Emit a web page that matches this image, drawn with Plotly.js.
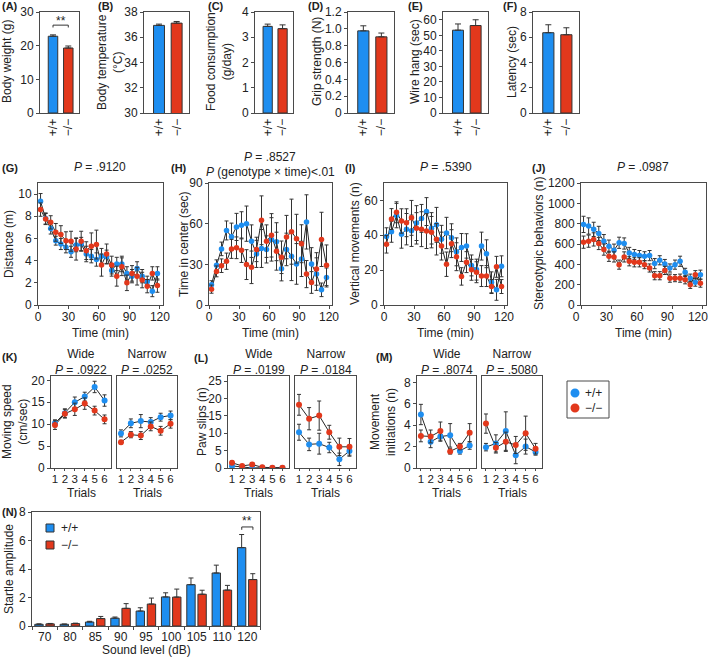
<!DOCTYPE html>
<html><head><meta charset="utf-8">
<script src="https://cdn.plot.ly/plotly-3.0.1.min.js"></script>
<style>html,body{margin:0;padding:0;background:#fff}#chart{width:709px;height:657px}</style>
</head><body><div id="chart"></div>
<script>
// ---------------- DATA ----------------
const genotypes = ['+/+', '\u2212/\u2212'];
const bodyWeight = [22.8, 19.3], bodyWeightErr = [0.4, 0.6];
const bodyTemp = [36.94, 37.12], bodyTempErr = [0.1, 0.13];
const foodCons = [3.43, 3.34], foodConsErr = [0.09, 0.15];
const grip = [0.976, 0.905], gripErr = [0.06, 0.045];
const wireHang = [53.3, 56.3], wireHangErr = [4.0, 3.7];
const latency = [6.36, 6.2], latencyErr = [0.63, 0.55];

const timeMin = [2.5, 7.5, 12.5, 17.5, 22.5, 27.5, 32.5, 37.5, 42.5, 47.5, 52.5, 57.5,
                 62.5, 67.5, 72.5, 77.5, 82.5, 87.5, 92.5, 97.5, 102.5, 107.5, 112.5, 117.5];
const distWT  = [9.35, 7.8, 6.9, 5.8, 5.5, 5.2, 4.8, 5.4, 5.5, 4.6, 4.4, 4.1, 4.4, 4.35, 3.1, 3.7, 3.7, 2.85, 2.6, 3.3, 2.6, 2.1, 1.25, 2.85];
const distWTe = [0.7, 0.5, 0.5, 0.4, 0.5, 0.5, 0.5, 0.6, 0.6, 0.7, 0.6, 0.6, 0.7, 0.6, 0.5, 0.6, 0.7, 0.6, 0.6, 0.6, 0.6, 0.5, 0.5, 0.6];
const distKO  = [8.6, 7.75, 7.45, 6.55, 6.35, 5.8, 5.75, 5.05, 5.75, 4.9, 5.3, 5.45, 3.6, 4.6, 3.6, 2.6, 3.45, 2.0, 2.85, 2.6, 2.25, 1.7, 2.85, 1.75];
const distKOe = [0.6, 0.5, 0.6, 0.8, 0.8, 0.8, 0.9, 1.0, 0.9, 0.8, 1.2, 1.3, 1.0, 0.9, 0.8, 0.9, 0.8, 0.7, 0.7, 0.8, 0.7, 0.6, 0.6, 0.6];
const centWT  = [14.9, 29.3, 41.4, 55, 50.4, 57.6, 58.8, 60, 47.1, 37.7, 41.7, 41, 48.4, 46.7, 26.8, 41, 36, 30.3, 34, 61.3, 30.3, 22.8, 11.2, 20.3];
const centWTe = [3, 4, 5, 7, 10, 10, 10, 13, 12, 10, 14, 10, 16, 14, 9, 12, 18, 15, 13, 20, 12, 12, 5, 7];
const centKO  = [11.7, 24.8, 29, 32.3, 41.4, 42.2, 40.4, 29.8, 27.8, 41, 62.5, 47.1, 51.4, 39.7, 35.2, 50.1, 54.1, 48.9, 45.2, 22.8, 16.6, 26.6, 48.4, 29.3];
const centKOe = [3, 4, 5, 6, 7, 8, 9, 11, 12, 9, 18, 12, 16, 14, 12, 16, 24, 18, 14, 10, 8, 12, 20, 15];
const vertWT  = [39.3, 42, 51.3, 40.6, 43.5, 42.6, 47, 49.7, 53.6, 44, 46, 37.7, 41.3, 38.6, 30.5, 33, 33.9, 22.7, 20.3, 33.8, 29.4, 13, 8.7, 22.2];
const vertWTe = [5, 6, 7, 8, 9, 9, 10, 8, 8, 9, 10, 8, 9, 8, 8, 8, 7, 6, 6, 8, 8, 6, 6, 6];
const vertKO  = [34.8, 49.3, 53.2, 48.2, 47.2, 50, 44, 43.5, 42.4, 41.8, 37.7, 33.8, 23.4, 35.2, 27.7, 16.4, 24.6, 20.2, 18.8, 16.6, 16.6, 10.6, 21.9, 10.6];
const vertKOe = [5, 6, 6, 7, 8, 10, 9, 10, 10, 9, 9, 8, 7, 8, 8, 5, 6, 6, 6, 6, 6, 4, 6, 4];
const stereoWT  = [793, 777, 744, 704, 628, 579, 539, 612, 605, 512, 496, 486, 479, 486, 407, 440, 403, 364, 397, 430, 321, 264, 225, 298];
const stereoWTe = [80, 80, 70, 70, 65, 60, 60, 55, 55, 55, 50, 50, 45, 50, 50, 45, 45, 40, 45, 50, 40, 40, 40, 45];
const stereoKO  = [618, 628, 645, 605, 545, 479, 473, 397, 473, 430, 420, 420, 397, 364, 288, 288, 340, 264, 264, 264, 248, 198, 298, 215];
const stereoKOe = [60, 60, 65, 60, 55, 50, 50, 45, 50, 45, 45, 45, 40, 40, 40, 40, 40, 40, 35, 40, 40, 35, 40, 40];

const trials = [1, 2, 3, 4, 5, 6];
const speedWideWT = [10.2, 12.5, 15.0, 16.3, 18.5, 15.4], speedWideWTe = [0.8, 1.0, 1.2, 1.0, 1.3, 1.3];
const speedWideKO = [9.8, 12.4, 13.4, 14.7, 13.1, 11.1], speedWideKOe = [1.0, 1.0, 1.4, 1.3, 1.0, 1.0];
const speedNarWT = [7.9, 10.2, 10.7, 10.5, 11.6, 12.0], speedNarWTe = [0.8, 1.0, 1.5, 1.0, 0.9, 1.0];
const speedNarKO = [5.9, 7.6, 7.4, 9.5, 8.5, 10.1], speedNarKOe = [0.4, 0.7, 0.9, 1.0, 1.0, 1.0];
const slipWideWT = [0.6, 0.3, 0.0, 0.1, 0.0, 0.0], slipWideWTe = [0.4, 0.2, 0.1, 0.1, 0.1, 0.1];
const slipWideKO = [1.5, 0.6, 1.0, 0.2, 0.1, 0.1], slipWideKOe = [0.5, 0.3, 0.5, 0.2, 0.1, 0.1];
const slipNarWT = [10.3, 6.8, 7.0, 5.9, 2.5, 4.9], slipNarWTe = [2.3, 1.8, 3.0, 1.5, 1.8, 1.5];
const slipNarKO = [18.2, 14.2, 15.1, 10.3, 6.1, 6.1], slipNarKOe = [3.0, 3.2, 4.2, 2.0, 2.5, 2.4];
const initWideWT = [5.0, 2.45, 2.95, 3.05, 1.6, 2.1], initWideWTe = [0.95, 0.55, 0.45, 1.1, 0.3, 0.35];
const initWideKO = [3.0, 2.95, 3.45, 1.55, 2.0, 3.3], initWideKOe = [0.55, 0.6, 0.85, 0.25, 0.3, 0.85];
const initNarWT = [1.95, 2.3, 3.45, 1.2, 2.0, 1.5], initNarWTe = [0.35, 0.8, 1.8, 0.8, 0.7, 0.3];
const initNarKO = [4.15, 1.9, 2.45, 2.15, 3.25, 1.8], initNarKOe = [0.9, 0.5, 0.9, 0.8, 1.6, 0.5];

const soundLevels = ['70', '80', '85', '90', '95', '100', '105', '110', '120'];
const startleWT  = [0.12, 0.12, 0.28, 0.55, 1.05, 2.04, 2.9, 3.72, 5.5];
const startleWTe = [0.03, 0.02, 0.05, 0.08, 0.23, 0.29, 0.47, 0.55, 0.92];
const startleKO  = [0.15, 0.17, 0.52, 1.24, 1.54, 2.03, 2.23, 2.52, 3.26];
const startleKOe = [0.03, 0.03, 0.15, 0.33, 0.42, 0.56, 0.28, 0.33, 0.41];

// ---------------- LAYOUT HELPERS ----------------
const W = 709, H = 657;
const FONT = '"Liberation Sans", Arial, Helvetica, sans-serif';
const BLUE = '#1e8ef0', RED = '#e2381c', INK = '#222', AXC = '#4a4a4a';
const AX = {showgrid:false, zeroline:false, showline:true, linecolor:AXC, linewidth:1, mirror:true,
            ticks:'outside', ticklen:3, tickcolor:AXC, tickfont:{size:12, color:INK}, fixedrange:true,
            ticklabeloverflow:'allow', tickangle:0};
const layout = {width:W, height:H, margin:{l:0, r:0, t:0, b:0}, showlegend:false,
  paper_bgcolor:'#fff', plot_bgcolor:'#fff', font:{family:FONT, size:12, color:INK},
  annotations:[], shapes:[]};
const data = [];
let axCount = 0;
function addAxes(x0, x1, y0, y1, xo, yo) {
  axCount++;
  const s = axCount === 1 ? '' : String(axCount);
  layout['xaxis' + s] = Object.assign({}, AX, {domain:[x0 / W, x1 / W], anchor:'y' + s}, xo);
  layout['yaxis' + s] = Object.assign({}, AX, {domain:[1 - y1 / H, 1 - y0 / H], anchor:'x' + s}, yo);
  return {xaxis:'x' + s, yaxis:'y' + s};
}
function ann(text, x, y, o) {
  layout.annotations.push(Object.assign({text:text, x:x / W, y:1 - y / H, xref:'paper', yref:'paper',
    showarrow:false, xanchor:'center', yanchor:'middle', font:{size:12, color:INK}}, o || {}));
}
function panelLabel(t, x, y) { ann('<b>' + t + '</b>', x, y, {xanchor:'left', font:{size:11, color:INK}}); }
function yTitle(t, x, y) { ann(t, x, y, {textangle:-90}); }

// ---------------- ROW 1: bar panels ----------------
function topBar(x0, x1, means, errs, yo) {
  const ax = addAxes(x0, x1, 12, 113, {type:'category', ticks:'', tickangle:-90, range:[-0.85, 1.7]}, yo);
  data.push(Object.assign({type:'bar', x:genotypes, y:means, width:0.62,
    marker:{color:[BLUE, RED], line:{color:'#333', width:1}},
    error_y:{type:'data', array:errs, arrayminus:errs.map(() => 0), symmetric:false, color:'#333', thickness:1, width:3}}, ax));
  return ax;
}
const axA = topBar(40, 79, bodyWeight, bodyWeightErr, {range:[0, 30], dtick:10});
topBar(144, 189, bodyTemp, bodyTempErr, {range:[30, 38], dtick:2});
topBar(255, 293, foodCons, foodConsErr, {range:[0, 4], dtick:1});
topBar(348, 394, grip, gripErr, {range:[0, 1.2], tickvals:[0, 0.2, 0.4, 0.6, 0.8, 1.0, 1.2], ticktext:['0', '0.2', '0.4', '0.6', '0.8', '1.0', '1.2']});
topBar(443, 488, wireHang, wireHangErr, {range:[0, 65], dtick:10});
topBar(533, 579, latency, latencyErr, {range:[0, 8], dtick:2});

panelLabel('(A)', 0, 6); panelLabel('(B)', 96, 6); panelLabel('(C)', 206, 6);
panelLabel('(D)', 306, 6); panelLabel('(E)', 406, 6); panelLabel('(F)', 501, 6);
yTitle('Body weight (g)', 7, 62);
yTitle('Body temperature<br>(°C)', 110, 62);
yTitle('Food consumption<br>(g/day)', 219, 62);
yTitle('Grip strength (N)', 317, 62);
yTitle('Wire hang (sec)', 415, 62);
yTitle('Latency (sec)', 512, 62);
// significance bracket in A
[[0, 25.4, 0, 26.1], [0, 26.1, 1, 26.1], [1, 26.1, 1, 25.4]].forEach(l => layout.shapes.push(
  {type:'line', xref:axA.xaxis, yref:axA.yaxis, x0:l[0], y0:l[1], x1:l[2], y1:l[3], line:{color:'#333', width:1}}));
layout.annotations.push({text:'**', xref:axA.xaxis, yref:axA.yaxis, x:0.5, y:27.4, showarrow:false, font:{size:12, color:INK}});

// ---------------- ROW 2: time courses ----------------
function seriesTraces(ax, x, b, be, r, re, msize) {
  [[b, BLUE], [r, RED]].forEach(s => data.push(Object.assign({type:'scatter', mode:'lines', x:x, y:s[0],
    line:{color:'#262626', width:1}, hoverinfo:'skip'}, ax)));
  [[b, be, BLUE], [r, re, RED]].forEach(s => data.push(Object.assign({type:'scatter', mode:'markers', x:x, y:s[0],
    marker:{color:s[2], size:msize},
    error_y:{type:'data', array:s[1], color:'#333', thickness:1, width:2}}, ax)));
}
function timePanel(x0, x1, b, be, r, re, yo, xo) {
  const ax = addAxes(x0, x1, 183, 305, Object.assign({range:[0, 123], tick0:0, dtick:30, ticklabelstandoff:-2}, xo || {}), yo);
  seriesTraces(ax, timeMin, b, be, r, re, 5.5);
  ann('Time (min)', (x0 + x1) / 2, 333);
}
timePanel(38, 163, distWT, distWTe, distKO, distKOe, {range:[0, 11], dtick:2});
timePanel(209, 332, centWT, centWTe, centKO, centKOe, {range:[0, 90], dtick:30});
timePanel(384, 507, vertWT, vertWTe, vertKO, vertKOe, {range:[0, 70], dtick:20});
timePanel(581, 706, stereoWT, stereoWTe, stereoKO, stereoKOe, {range:[0, 1200], dtick:200}, {ticklabelshift:-5});

panelLabel('(G)', 0, 168); panelLabel('(H)', 169, 168); panelLabel('(I)', 343, 168); panelLabel('(J)', 530, 168);
ann('<i>P</i> = .9120', 100, 167);
ann('<i>P</i> = .8527', 270, 157);
ann('<i>P</i> (genotype × time)<.01', 270, 172);
ann('<i>P</i> = .5390', 446, 167);
ann('<i>P</i> = .0987', 643, 167);
yTitle('Distance (m)', 9, 244);
yTitle('Time in center (sec)', 184, 244);
yTitle('Vertical movements (n)', 355, 244);
yTitle('Stereotypic behaviors (n)', 539, 244);

// ---------------- ROW 3: beam tests ----------------
function trialPanel(x0, x1, b, be, r, re, yo, title, p) {
  const ax = addAxes(x0, x1, 376, 468, {range:[0.6, 6.65], tickvals:trials, ticklen:2, ticklabelstandoff:-2,
    tickfont:{size:11.5, color:INK}}, yo);
  seriesTraces(ax, trials, b, be, r, re, 6);
  ann(title + '<br><i>P</i> = ' + p, (x0 + x1) / 2, 362);
  ann('Trials', (x0 + x1) / 2, 493);
}
const hideY = {showticklabels:false, ticks:''};
trialPanel(51, 111, speedWideWT, speedWideWTe, speedWideKO, speedWideKOe, {range:[0, 21], dtick:5}, 'Wide', '.0922');
trialPanel(117, 177, speedNarWT, speedNarWTe, speedNarKO, speedNarKOe, Object.assign({range:[0, 21]}, hideY), 'Narrow', '.0252');
trialPanel(228, 289, slipWideWT, slipWideWTe, slipWideKO, slipWideKOe, {range:[0, 26.5], dtick:5}, 'Wide', '.0199');
trialPanel(295, 356, slipNarWT, slipNarWTe, slipNarKO, slipNarKOe, Object.assign({range:[0, 26.5]}, hideY), 'Narrow', '.0184');
trialPanel(417, 476, initWideWT, initWideWTe, initWideKO, initWideKOe, {range:[0, 8.6], dtick:2}, 'Wide', '.8074');
trialPanel(482, 542, initNarWT, initNarWTe, initNarKO, initNarKOe, Object.assign({range:[0, 8.6]}, hideY), 'Narrow', '.5080');

panelLabel('(K)', 0, 357); panelLabel('(L)', 192, 358); panelLabel('(M)', 374, 357);
yTitle('Moving speed<br>(cm/sec)', 15, 422);
yTitle('Paw slips (n)', 202, 422);
yTitle('Movement<br>initiations (n)', 383, 422);

// legend (circles)
layout.shapes.push({type:'rect', xref:'paper', yref:'paper', x0:567 / W, x1:609 / W, y0:1 - 418 / H, y1:1 - 381 / H, line:{color:AXC, width:1}});
[[393, BLUE], [408, RED]].forEach(e => layout.shapes.push({type:'circle', xref:'paper', yref:'paper',
  x0:570.5 / W, x1:579.5 / W, y0:1 - (e[0] + 4.5) / H, y1:1 - (e[0] - 4.5) / H, fillcolor:e[1], line:{width:0}}));
ann(genotypes[0], 583, 393, {xanchor:'left'});
ann(genotypes[1], 583, 408, {xanchor:'left'});

// ---------------- ROW 4: startle ----------------
const axN = addAxes(32, 260, 512, 626, {type:'category', range:[-0.5, 8.5], tickson:'boundaries', ticks:'outside', ticklen:3, tickangle:0},
  {range:[0, 8], dtick:2});
data.push(Object.assign({type:'bar', x:soundLevels, y:startleWT, offset:-0.39, width:0.33,
  marker:{color:BLUE, line:{color:'#333', width:1}},
  error_y:{type:'data', array:startleWTe, arrayminus:startleWTe.map(() => 0), symmetric:false, color:'#333', thickness:1, width:2.5}}, axN));
data.push(Object.assign({type:'bar', x:soundLevels, y:startleKO, offset:0.05, width:0.33,
  marker:{color:RED, line:{color:'#333', width:1}},
  error_y:{type:'data', array:startleKOe, arrayminus:startleKOe.map(() => 0), symmetric:false, color:'#333', thickness:1, width:2.5}}, axN));
[[7.78, 6.75, 7.78, 6.95], [7.78, 6.95, 8.22, 6.95], [8.22, 6.95, 8.22, 6.75]].forEach(l => layout.shapes.push(
  {type:'line', xref:axN.xaxis, yref:axN.yaxis, x0:l[0], y0:l[1], x1:l[2], y1:l[3], line:{color:'#333', width:1}}));
layout.annotations.push({text:'**', xref:axN.xaxis, yref:axN.yaxis, x:8, y:7.35, showarrow:false, font:{size:12, color:INK}});
panelLabel('(N)', 0, 512);
yTitle('Startle amplitude', 9, 569);
ann('Sound level (dB)', 146, 650);
// legend (squares)
[[528, BLUE], [545, RED]].forEach(e => layout.shapes.push({type:'rect', xref:'paper', yref:'paper',
  x0:46 / W, x1:54 / W, y0:1 - (e[0] + 4) / H, y1:1 - (e[0] - 4) / H, fillcolor:e[1], line:{color:'#333', width:1}}));
ann(genotypes[0], 59, 528, {xanchor:'left'});
ann(genotypes[1], 59, 545, {xanchor:'left'});

Plotly.newPlot('chart', data, layout, {staticPlot:true, displayModeBar:false});
</script></body></html>
